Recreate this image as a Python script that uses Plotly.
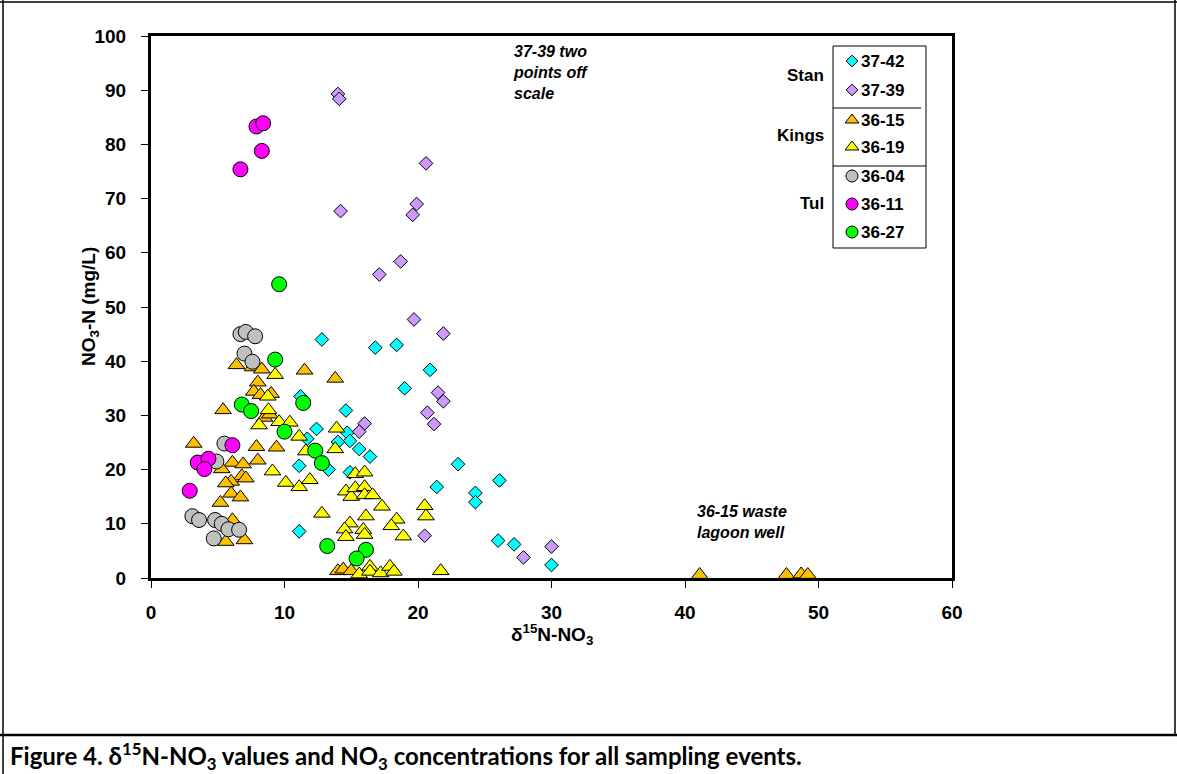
import plotly.graph_objects as go

# --- data: delta15N-NO3 (x) and NO3-N mg/L (y) per well ---
x_3742 = [12.8, 16.8, 18.4, 20.9, 19.0, 11.2, 14.6, 12.4, 11.7, 14.7, 14.9, 14.0, 15.6, 16.4,
          11.1, 13.3, 14.9, 23.0, 21.4, 24.3, 24.3, 26.1, 11.1, 26.0, 27.2, 30.0]
y_3742 = [44.0, 42.5, 43.0, 38.4, 35.0, 33.5, 30.9, 27.5, 25.7, 26.8, 25.3, 25.1, 23.8, 22.4,
          20.7, 20.0, 19.5, 21.0, 16.8, 15.7, 14.0, 18.0, 8.6, 6.9, 6.2, 2.4]

x_3739 = [14.0, 14.1, 14.2, 17.1, 18.7, 19.6, 19.9, 20.6, 19.7, 21.9, 21.5, 21.9, 20.7, 21.2,
          16.0, 15.6, 20.5, 27.9, 30.0]
y_3739 = [89.3, 88.4, 67.7, 56.0, 58.4, 67.0, 69.0, 76.5, 47.7, 45.1, 34.2, 32.6, 30.5, 28.4,
          28.5, 27.0, 7.8, 3.8, 5.8]

x_3615 = [3.2, 5.4, 6.4, 7.6, 8.3, 8.0, 7.7, 8.2, 9.0, 8.5, 8.9, 7.9, 9.4, 8.0, 6.1, 6.9, 5.3,
          6.8, 7.1, 6.0, 5.6, 6.0, 6.7, 5.2, 6.1, 5.6, 7.0, 11.5, 13.8, 14.0, 14.4, 15.0,
          41.1, 47.6, 48.7, 49.2]
y_3615 = [24.8, 31.0, 39.3, 38.9, 38.5, 36.1, 34.4, 33.8, 34.0, 29.6, 30.2, 24.2, 24.1, 21.7,
          21.3, 21.0, 20.1, 18.8, 18.4, 17.8, 17.5, 15.6, 14.9, 13.9, 10.7, 6.7, 7.0, 38.3,
          36.8, 1.3, 1.6, 1.3, 0.6, 0.6, 0.7, 0.6]

x_3619 = [8.75, 8.8, 9.3, 8.1, 9.6, 10.4, 11.1, 11.6, 13.9, 13.8, 9.1, 10.1, 11.1, 11.9, 12.8,
          15.3, 16.0, 14.6, 15.0, 15.3, 16.0, 16.0, 16.6, 17.3, 16.1, 18.4, 18.0, 18.9, 14.9,
          14.5, 14.6, 15.9, 16.0, 20.5, 20.6, 21.7, 15.6, 16.4, 16.4, 17.2, 17.9, 18.2]
y_3619 = [33.5, 31.0, 37.5, 28.2, 28.8, 28.7, 26.1, 23.4, 27.6, 23.8, 19.7, 17.6, 16.8, 18.1,
          11.9, 19.2, 19.5, 16.0, 15.0, 16.6, 16.8, 15.3, 15.3, 13.2, 11.4, 10.8, 9.6, 7.7,
          10.1, 9.0, 7.6, 8.9, 8.0, 13.3, 11.4, 1.3, 0.7, 2.1, 1.2, 0.9, 2.1, 1.2]

x_3604 = [6.7, 7.1, 7.8, 7.0, 7.6, 5.5, 4.9, 3.1, 3.6, 4.8, 5.3, 5.8, 6.6, 4.7]
y_3604 = [45.0, 45.4, 44.6, 41.4, 39.9, 24.8, 21.5, 11.4, 10.7, 10.7, 10.0, 9.0, 8.9, 7.3]

x_3611 = [6.1, 3.5, 4.3, 4.0, 2.9, 6.7, 7.9, 8.4, 8.3]
y_3611 = [24.5, 21.3, 22.0, 20.1, 16.1, 75.4, 83.3, 83.9, 78.8]

x_3627 = [9.6, 9.3, 6.8, 7.5, 11.4, 10.0, 12.3, 12.8, 13.2, 16.1, 15.4]
y_3627 = [54.2, 40.3, 32.0, 30.8, 32.3, 27.0, 23.5, 21.2, 5.9, 5.2, 3.6]

x_ticks = [0, 10, 20, 30, 40, 50, 60]
y_ticks = [0, 10, 20, 30, 40, 50, 60, 70, 80, 90, 100]

# series styling: (name, x, y, symbol, colour, size, legend size)
series = [
    ("37-42", x_3742, y_3742, "diamond", "#00FFFF", 10.5, 9),
    ("37-39", x_3739, y_3739, "diamond", "#CC99FF", 10.5, 9),
    ("36-15", x_3615, y_3615, "triangle-up", "#FFC000", 14.5, 12),
    ("36-19", x_3619, y_3619, "triangle-up", "#FFFF00", 14.5, 12),
    ("36-04", x_3604, y_3604, "circle", "#C0C0C0", 15, 12),
    ("36-11", x_3611, y_3611, "circle", "#FF00FF", 15, 12),
    ("36-27", x_3627, y_3627, "circle", "#00FF00", 15, 12),
]

W, H = 1177, 774
# plot area in pixels
PL, PR, PT, PB = 151, 952, 36, 578

fig = go.Figure()

for name, xs, ys, sym, col, sz, _ in series:
    fig.add_trace(go.Scatter(
        x=xs, y=ys, mode="markers", name=name, showlegend=False,
        cliponaxis=False,
        marker=dict(symbol=sym, color=col, size=sz,
                    line=dict(color="black", width=1)),
        xaxis="x", yaxis="y",
    ))

# hand-built legend, drawn on a transparent full-page pixel axis
leg_y = [61, 90, 120, 147, 176, 204, 232]
for (name, xs, ys, sym, col, sz, lsz), ly in zip(series, leg_y):
    fig.add_trace(go.Scatter(
        x=[852], y=[ly], mode="markers", showlegend=False, cliponaxis=False,
        marker=dict(symbol=sym, color=col, size=lsz,
                    line=dict(color="black", width=1)),
        xaxis="x2", yaxis="y2", hoverinfo="skip",
    ))

bold = dict(family="Liberation Sans, Arial", size=19, color="black", weight="bold")

fig.update_layout(
    width=W, height=H,
    margin=dict(l=0, r=0, t=0, b=0, pad=0, autoexpand=False),
    paper_bgcolor="white", plot_bgcolor="rgba(0,0,0,0)",
    showlegend=False,
    xaxis=dict(
        domain=[PL / W, PR / W], range=[0, 60], anchor="y",
        tickvals=x_ticks, ticktext=[str(v) for v in x_ticks],
        showgrid=False, zeroline=False,
        showline=True, linecolor="black", linewidth=3, mirror=True,
        ticks="outside", ticklen=7, tickwidth=1, tickcolor="black",
        tickfont=bold, ticklabelstandoff=8,
    ),
    yaxis=dict(
        domain=[1 - PB / H, 1 - PT / H], range=[0, 100], anchor="x",
        tickvals=y_ticks, ticktext=[str(v) for v in y_ticks],
        showgrid=False, zeroline=False,
        showline=True, linecolor="black", linewidth=3, mirror=True,
        ticks="outside", ticklen=7, tickwidth=1, tickcolor="black",
        tickfont=bold, ticklabelstandoff=11,
    ),
    xaxis2=dict(domain=[0, 1], range=[0, W], visible=False, fixedrange=True,
                anchor="y2"),
    yaxis2=dict(domain=[0, 1], range=[H, 0], visible=False, fixedrange=True,
                anchor="x2"),
)

ann = []
# axis titles
ann.append(dict(x=552, y=634, xref="x2", yref="y2", showarrow=False,
                text="δ<sup>15</sup>N-NO<sub>3</sub>", font=bold,
                xanchor="center", yanchor="middle"))
ann.append(dict(x=90, y=307, xref="x2", yref="y2", showarrow=False,
                text="NO<sub>3</sub>-N (mg/L)", font=bold, textangle=-90,
                xanchor="center", yanchor="middle"))

note_font = dict(family="Liberation Sans, Arial", size=16, color="black",
                 weight="bold", style="italic")
ann.append(dict(x=511, y=41, xref="x2", yref="y2", showarrow=False,
                text="37-39 two<br>points off<br>scale", font=note_font,
                align="left", xanchor="left", yanchor="top"))
ann.append(dict(x=695, y=501, xref="x2", yref="y2", showarrow=False,
                text="36-15 waste<br>lagoon well", font=note_font,
                align="left", xanchor="left", yanchor="top"))

leg_font = dict(family="Liberation Sans, Arial", size=17, color="black", weight="bold")
for (name, *_), ly in zip(series, leg_y):
    ann.append(dict(x=859, y=ly, xref="x2", yref="y2", showarrow=False,
                    text=name, font=leg_font, xanchor="left", yanchor="middle"))
for label, gy in [("Stan", 75), ("Kings", 135), ("Tul", 203)]:
    ann.append(dict(x=826, y=gy, xref="x2", yref="y2", showarrow=False,
                    text=label, font=leg_font, xanchor="right", yanchor="middle"))

# caption
ann.append(dict(x=8, y=756, xref="x2", yref="y2", showarrow=False,
                text="Figure 4. δ<sup>15</sup>N-NO<sub>3</sub> values and NO<sub>3</sub> concentrations for all sampling events.",
                font=dict(family="Lato, Open Sans", size=24, color="black", weight="bold"),
                xanchor="left", yanchor="middle"))

fig.update_layout(annotations=ann)

shapes = [
    # legend frame and group separators
    dict(type="rect", xref="x2", yref="y2", x0=833, x1=926, y0=46, y1=248,
         line=dict(color="black", width=1)),
    dict(type="line", xref="x2", yref="y2", x0=833, x1=921, y0=108, y1=108,
         line=dict(color="black", width=1)),
    dict(type="line", xref="x2", yref="y2", x0=833, x1=926, y0=166, y1=166,
         line=dict(color="black", width=1)),
    # page frame around figure and caption
    dict(type="line", xref="x2", yref="y2", x0=3, x1=3, y0=0, y1=774,
         line=dict(color="black", width=1.5)),
    dict(type="line", xref="x2", yref="y2", x0=1175, x1=1175, y0=0, y1=735,
         line=dict(color="black", width=1.5)),
    dict(type="line", xref="x2", yref="y2", x0=0, x1=1177, y0=2, y1=2,
         line=dict(color="black", width=1.5)),
    dict(type="line", xref="x2", yref="y2", x0=0, x1=1177, y0=735, y1=735,
         line=dict(color="black", width=2.5)),
]
fig.update_layout(shapes=shapes)

# pin the figure to the page corner so the page itself adds no offset
fig.write_html(
    "out.html",
    post_script="document.body.style.margin='0';"
                "document.documentElement.style.overflow='hidden';"
                "var gd=document.getElementById('{plot_id}');"
                "gd.style.position='fixed';gd.style.left='0px';gd.style.top='0px';",
)
